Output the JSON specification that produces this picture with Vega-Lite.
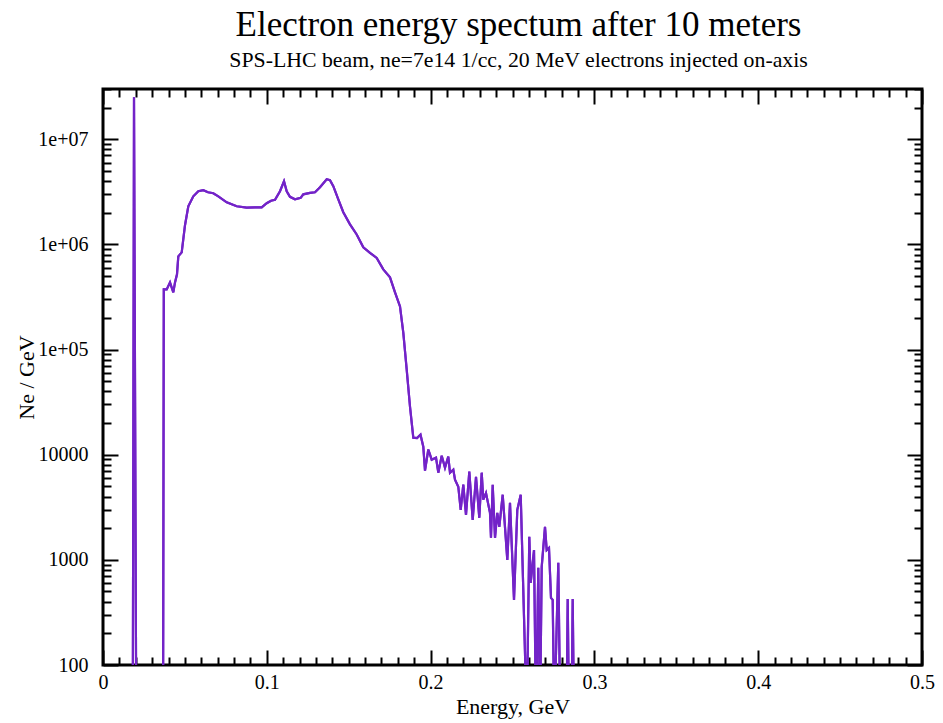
{
  "$schema": "https://vega.github.io/schema/vega-lite/v6.json",
  "width": 819,
  "height": 576,
  "autosize": "none",
  "padding": {"left": 103, "top": 89, "right": 21, "bottom": 58},
  "background": "white",
  "config": {
    "view": {"stroke": "black", "strokeWidth": 3},
    "font": "Liberation Serif",
    "axis": {"domain": false, "grid": false, "tickColor": "black", "tickWidth": 2, "labelColor": "black", "titleColor": "black", "labelFont": "Liberation Serif", "titleFont": "Liberation Serif", "labelFontSize": 20, "titleFontSize": 22, "titleFontWeight": "normal"}
  },
  "title": {
    "text": "Electron energy spectum after 10 meters",
    "subtitle": "SPS-LHC beam, ne=7e14 1/cc, 20 MeV electrons injected on-axis",
    "font": "Liberation Serif",
    "subtitleFont": "Liberation Serif",
    "fontSize": 35,
    "subtitleFontSize": 21.8,
    "fontWeight": "normal",
    "color": "black",
    "subtitleColor": "black",
    "anchor": "middle",
    "offset": 7,
    "dx": 6,
    "subtitlePadding": 7
  },
  "data": {"values": [
    {"E": 0.0180, "N": 1},
    {"E": 0.01893, "N": 25100000},
    {"E": 0.02063, "N": 1},
    {"E": 0.0365, "N": 1},
    {"E": 0.03712, "N": 373000},
    {"E": 0.03889, "N": 373000},
    {"E": 0.0409, "N": 435000},
    {"E": 0.04292, "N": 349000},
    {"E": 0.04396, "N": 435000},
    {"E": 0.04518, "N": 518000},
    {"E": 0.04597, "N": 769000},
    {"E": 0.04805, "N": 839000},
    {"E": 0.05006, "N": 1520000},
    {"E": 0.05208, "N": 2300000},
    {"E": 0.05513, "N": 2860000},
    {"E": 0.05818, "N": 3200000},
    {"E": 0.06123, "N": 3270000},
    {"E": 0.0641, "N": 3130000},
    {"E": 0.06734, "N": 3060000},
    {"E": 0.07039, "N": 2860000},
    {"E": 0.07552, "N": 2510000},
    {"E": 0.08162, "N": 2300000},
    {"E": 0.08773, "N": 2230000},
    {"E": 0.0928, "N": 2250000},
    {"E": 0.09689, "N": 2250000},
    {"E": 0.09994, "N": 2460000},
    {"E": 0.10256, "N": 2600000},
    {"E": 0.10501, "N": 2650000},
    {"E": 0.10806, "N": 3200000},
    {"E": 0.1105, "N": 3980000},
    {"E": 0.11215, "N": 3200000},
    {"E": 0.11416, "N": 2830000},
    {"E": 0.11722, "N": 2680000},
    {"E": 0.1207, "N": 2770000},
    {"E": 0.12228, "N": 2990000},
    {"E": 0.12637, "N": 3090000},
    {"E": 0.12943, "N": 3130000},
    {"E": 0.13248, "N": 3490000},
    {"E": 0.13657, "N": 4160000},
    {"E": 0.13858, "N": 4070000},
    {"E": 0.1406, "N": 3570000},
    {"E": 0.14365, "N": 2680000},
    {"E": 0.1467, "N": 2020000},
    {"E": 0.15079, "N": 1550000},
    {"E": 0.15488, "N": 1240000},
    {"E": 0.15891, "N": 936000},
    {"E": 0.163, "N": 830000},
    {"E": 0.16709, "N": 743000},
    {"E": 0.17112, "N": 578000},
    {"E": 0.17521, "N": 485000},
    {"E": 0.17827, "N": 349000},
    {"E": 0.18132, "N": 257000},
    {"E": 0.18333, "N": 145000},
    {"E": 0.18541, "N": 64500},
    {"E": 0.18742, "N": 28700},
    {"E": 0.18944, "N": 14500},
    {"E": 0.1917, "N": 14400},
    {"E": 0.19383, "N": 15500},
    {"E": 0.19554, "N": 11900},
    {"E": 0.19658, "N": 7040},
    {"E": 0.1986, "N": 11200},
    {"E": 0.20067, "N": 8960},
    {"E": 0.2033, "N": 9360},
    {"E": 0.2047, "N": 6740},
    {"E": 0.20678, "N": 9780},
    {"E": 0.20879, "N": 7520},
    {"E": 0.2108, "N": 9570},
    {"E": 0.21184, "N": 6740},
    {"E": 0.21386, "N": 7200},
    {"E": 0.2149, "N": 5780},
    {"E": 0.21691, "N": 4960},
    {"E": 0.21838, "N": 2990},
    {"E": 0.21996, "N": 5180},
    {"E": 0.22161, "N": 2680},
    {"E": 0.22363, "N": 6890},
    {"E": 0.2257, "N": 2400},
    {"E": 0.22772, "N": 6170},
    {"E": 0.22973, "N": 2510},
    {"E": 0.2312, "N": 6740},
    {"E": 0.23217, "N": 3730},
    {"E": 0.23382, "N": 4320},
    {"E": 0.23626, "N": 2800},
    {"E": 0.23687, "N": 1620},
    {"E": 0.23791, "N": 5180},
    {"E": 0.23932, "N": 1620},
    {"E": 0.24072, "N": 2800},
    {"E": 0.24194, "N": 2060},
    {"E": 0.24402, "N": 4160},
    {"E": 0.24683, "N": 1000},
    {"E": 0.24847, "N": 3490},
    {"E": 0.25092, "N": 416},
    {"E": 0.25293, "N": 2990},
    {"E": 0.25501, "N": 4160},
    {"E": 0.25873, "N": 30},
    {"E": 0.26026, "N": 1660},
    {"E": 0.26111, "N": 604},
    {"E": 0.26313, "N": 1240},
    {"E": 0.26435, "N": 30},
    {"E": 0.26575, "N": 839},
    {"E": 0.26679, "N": 30},
    {"E": 0.26783, "N": 858},
    {"E": 0.26984, "N": 2060},
    {"E": 0.27088, "N": 1240},
    {"E": 0.27228, "N": 1300},
    {"E": 0.2735, "N": 435},
    {"E": 0.27454, "N": 416},
    {"E": 0.27552, "N": 30},
    {"E": 0.27796, "N": 936},
    {"E": 0.27918, "N": 30},
    {"E": 0.28297, "N": 30},
    {"E": 0.2837, "N": 425},
    {"E": 0.2845, "N": 30},
    {"E": 0.28602, "N": 30},
    {"E": 0.28675, "N": 425},
    {"E": 0.28755, "N": 30}
  ]},
  "layer": [
    {
      "mark": {"type": "line", "color": "#7323c8", "strokeWidth": 2.2, "clip": true},
      "encoding": {
        "x": {"field": "E", "type": "quantitative", "scale": {"domain": [0, 0.5], "nice": false, "zero": false},
          "axis": {"orient": "bottom", "title": "Energy, GeV", "titlePadding": -3,
            "values": [0,0.01,0.02,0.03,0.04,0.05,0.06,0.07,0.08,0.09,0.1,0.11,0.12,0.13,0.14,0.15,0.16,0.17,0.18,0.19,0.2,0.21,0.22,0.23,0.24,0.25,0.26,0.27,0.28,0.29,0.3,0.31,0.32,0.33,0.34,0.35,0.36,0.37,0.38,0.39,0.4,0.41,0.42,0.43,0.44,0.45,0.46,0.47,0.48,0.49,0.5],
            "tickSize": {"condition": {"test": "abs(datum.value*10 - round(datum.value*10)) < 1e-6", "value": -15}, "value": -8},
            "labelPadding": 22,
            "labelFlush": false,
            "labelOverlap": false,
            "labelExpr": "abs(datum.value*10 - round(datum.value*10)) < 1e-6 ? toString(round(datum.value*10)/10) : ''"}},
        "y": {"field": "N", "type": "quantitative", "scale": {"type": "log", "domain": [100, 30000000], "nice": false},
          "axis": {"orient": "left", "title": "Ne / GeV", "titlePadding": -1,
            "values": [100,200,300,400,500,600,700,800,900,1000,2000,3000,4000,5000,6000,7000,8000,9000,10000,20000,30000,40000,50000,60000,70000,80000,90000,100000,200000,300000,400000,500000,600000,700000,800000,900000,1000000,2000000,3000000,4000000,5000000,6000000,7000000,8000000,9000000,10000000,20000000,30000000],
            "tickSize": {"condition": {"test": "abs(log(datum.value)/LN10 - round(log(datum.value)/LN10)) < 1e-6", "value": -15}, "value": -8},
            "labelPadding": 30,
            "labelFlush": false,
            "labelOverlap": false,
            "labelExpr": "abs(log(datum.value)/LN10 - round(log(datum.value)/LN10)) < 1e-6 ? (datum.value >= 100000 ? '1e+0' + round(log(datum.value)/LN10) : toString(datum.value)) : ''"}}
      }
    },
    {
      "mark": {"type": "line", "color": "#7323c8", "strokeWidth": 2.2, "clip": true},
      "encoding": {
        "x": {"field": "E", "type": "quantitative",
          "axis": {"orient": "top", "title": null, "labels": false,
            "values": [0,0.01,0.02,0.03,0.04,0.05,0.06,0.07,0.08,0.09,0.1,0.11,0.12,0.13,0.14,0.15,0.16,0.17,0.18,0.19,0.2,0.21,0.22,0.23,0.24,0.25,0.26,0.27,0.28,0.29,0.3,0.31,0.32,0.33,0.34,0.35,0.36,0.37,0.38,0.39,0.4,0.41,0.42,0.43,0.44,0.45,0.46,0.47,0.48,0.49,0.5],
            "tickSize": {"condition": {"test": "abs(datum.value*10 - round(datum.value*10)) < 1e-6", "value": -15}, "value": -8}}},
        "y": {"field": "N", "type": "quantitative",
          "axis": {"orient": "right", "title": null, "labels": false,
            "values": [100,200,300,400,500,600,700,800,900,1000,2000,3000,4000,5000,6000,7000,8000,9000,10000,20000,30000,40000,50000,60000,70000,80000,90000,100000,200000,300000,400000,500000,600000,700000,800000,900000,1000000,2000000,3000000,4000000,5000000,6000000,7000000,8000000,9000000,10000000,20000000,30000000],
            "tickSize": {"condition": {"test": "abs(log(datum.value)/LN10 - round(log(datum.value)/LN10)) < 1e-6", "value": -15}, "value": -8}}}
      }
    }
  ],
  "resolve": {"axis": {"x": "independent", "y": "independent"}}
}
